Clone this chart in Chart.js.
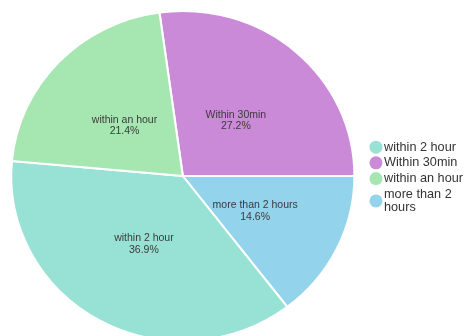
<!DOCTYPE html>
<html>
<head>
<meta charset="utf-8">
<script src="https://cdn.jsdelivr.net/npm/chart.js@4/dist/chart.umd.min.js"></script>
<style>
  html, body { margin: 0; padding: 0; background: #fff; overflow: hidden; }
  #wrap { width: 464px; height: 336px; overflow: hidden; }
  #pieChart { margin-left: -6px; display: block; }
</style>
</head>
<body>
<div id="wrap"><canvas id="pieChart" width="470" height="352"></canvas></div>
<script>
// slices in drawing order (clockwise)
const categories = ['Within 30min', 'more than 2 hours', 'within 2 hour', 'within an hour'];
const shares = [27.2, 14.6, 36.9, 21.4];
const sliceColors = ['#ca8ad8', '#93d3eb', '#98e2d5', '#a6e6b1'];
// legend shows them in another order
const legendOrder = [2, 0, 3, 1];
const legendText = [['within 2 hour'], ['Within 30min'], ['within an hour'], ['more than 2', 'hours']];

const FONT = '"Liberation Sans", Arial, Helvetica, sans-serif';
const LEGEND_SIZE = 12.7;
const LEGEND_LH = 1.05;
const stretchX = 1.04;

const total = shares.reduce((a, b) => a + b, 0);
const startRotation = 90 - 360 * shares[0] / total;

const sliceLabels = {
    id: 'sliceLabels',
    beforeDatasetsDraw(chart) {
        const arc = chart.getDatasetMeta(0).data[0];
        const ctx = chart.ctx;
        ctx.save();
        ctx.translate(arc.x, arc.y);
        ctx.scale(stretchX, 1);
        ctx.translate(-arc.x, -arc.y);
    },
    afterDatasetsDraw(chart) {
        const ctx = chart.ctx;
        ctx.restore();
        ctx.save();
        ctx.font = '10.5px ' + FONT;
        ctx.fillStyle = '#3b3b3b';
        ctx.textAlign = 'center';
        ctx.textBaseline = 'middle';
        chart.getDatasetMeta(0).data.forEach((el, i) => {
            const p = el.getProps(['x', 'y', 'startAngle', 'endAngle', 'outerRadius']);
            const mid = (p.startAngle + p.endAngle) / 2;
            const r = p.outerRadius * 0.47;
            const x = p.x + Math.cos(mid) * r * stretchX;
            const y = p.y + 1.7 + Math.sin(mid) * r * 0.975;
            ctx.fillText(categories[i], x, y - 5.8);
            ctx.fillText(shares[i].toFixed(1) + '%', x, y + 5.8);
        });
        ctx.restore();
    },
    afterDraw(chart) {
        // round legend markers, drawn outside the legend's clip box
        const ctx = chart.ctx;
        const boxes = chart.legend.legendHitBoxes;
        ctx.save();
        legendOrder.forEach((idx, k) => {
            const hb = boxes[k];
            const lines = legendText[k].length;
            const cx = hb.left + 1.3;
            const cy = hb.top + LEGEND_SIZE / 2 + (lines - 1) * LEGEND_SIZE * LEGEND_LH / 2;
            ctx.fillStyle = sliceColors[idx];
            ctx.beginPath();
            ctx.arc(cx, cy, 6.5, 0, Math.PI * 2);
            ctx.fill();
        });
        ctx.restore();
    }
};

new Chart(document.getElementById('pieChart'), {
    type: 'pie',
    data: {
        labels: categories,
        datasets: [{
            data: shares,
            backgroundColor: sliceColors,
            borderColor: '#ffffff',
            borderWidth: 2
        }]
    },
    options: {
        responsive: false,
        animation: false,
        rotation: startRotation,
        layout: { padding: { left: 0, right: -9, top: 10, bottom: 10 } },
        plugins: {
            tooltip: { enabled: false },
            legend: {
                position: 'right',
                title: { display: true, text: ' ', font: { size: 2 }, padding: 0.5 },
                labels: {
                    usePointStyle: true,
                    pointStyleWidth: 3,
                    padding: 3,
                    color: '#333333',
                    font: { family: FONT, size: LEGEND_SIZE, lineHeight: LEGEND_LH },
                    generateLabels(chart) {
                        return legendOrder.map((idx, k) => ({
                            text: legendText[k].length > 1 ? legendText[k] : legendText[k][0],
                            fillStyle: 'rgba(0,0,0,0)',
                            strokeStyle: 'rgba(0,0,0,0)',
                            lineWidth: 0,
                            pointStyle: 'circle',
                            fontColor: '#333333',
                            hidden: false,
                            index: idx,
                            datasetIndex: 0
                        }));
                    }
                }
            }
        }
    },
    plugins: [sliceLabels]
});
</script>
</body>
</html>
